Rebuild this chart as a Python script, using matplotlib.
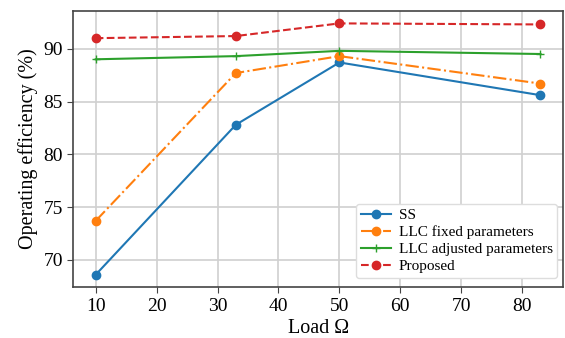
import matplotlib
matplotlib.use("Agg")
import matplotlib.pyplot as plt

plt.rcParams['font.family'] = ['Liberation Serif', 'DejaVu Serif']
plt.rcParams['mathtext.fontset'] = 'stix'

load = [10, 33, 50, 83]
ss = [68.6, 82.8, 88.7, 85.6]
llc_fixed = [73.7, 87.7, 89.3, 86.7]
llc_adjusted = [89.0, 89.3, 89.8, 89.5]
proposed = [91.0, 91.2, 92.4, 92.3]

xticks = [10, 20, 30, 40, 50, 60, 70, 80]
yticks = [70, 75, 80, 85, 90]

fig = plt.figure(figsize=(5.65, 3.38), dpi=100)
ax = fig.add_axes([0.130, 0.150, 0.866, 0.818])

ax.plot(load, ss, '-', marker='o', color='#1f77b4', lw=1.5, ms=6, label='SS')
ax.plot(load, llc_fixed, '-.', marker='o', color='#ff7f0e', lw=1.5, ms=6, label='LLC fixed parameters')
ax.plot(load, llc_adjusted, '-', marker='+', color='#2ca02c', lw=1.5, ms=6, label='LLC adjusted parameters')
ax.plot(load, proposed, '--', marker='o', color='#d62728', lw=1.5, ms=6, label='Proposed')

ax.set_xticks(xticks)
ax.set_yticks(yticks)
ax.tick_params(labelsize=14, color='#444444', length=4)
ax.grid(True, color='#d0d0d0', lw=1.2)
ax.set_axisbelow(True)
for s in ax.spines.values():
    s.set_color('#444444')
    s.set_linewidth(1.2)

ax.set_xlabel('Load Ω', fontsize=14.5, labelpad=3)
ax.set_ylabel('Operating efficiency (%)', fontsize=14.5, labelpad=4)

leg = ax.legend(loc='lower right', bbox_to_anchor=(1.0, 0.015), fontsize=11, labelspacing=0.22,
                handlelength=2.0, borderaxespad=0.35, framealpha=1.0, edgecolor='#dddddd',
                fancybox=True, borderpad=0.3, handletextpad=0.5)

fig.savefig('out.png', dpi=100)
